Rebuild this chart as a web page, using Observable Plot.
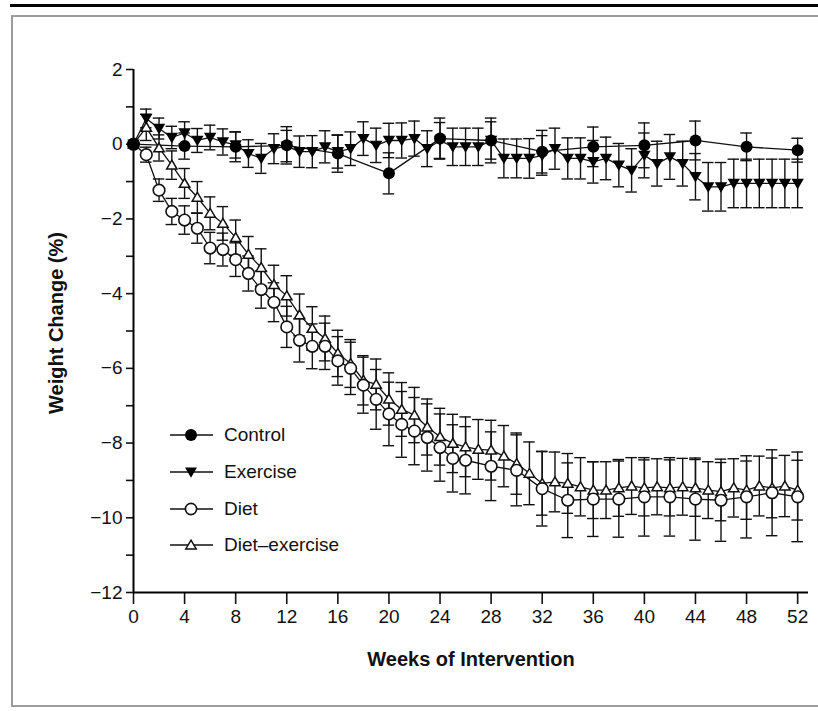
<!DOCTYPE html>
<html><head><meta charset="utf-8">
<script src="https://cdn.jsdelivr.net/npm/d3@7"></script>
<script src="https://cdn.jsdelivr.net/npm/@observablehq/plot@0.6"></script>
<style>
body{margin:0;background:#fff;width:818px;height:711px;overflow:hidden;position:relative;font-family:"Liberation Sans",Arial,sans-serif;color:#111;}
#topline{position:absolute;left:10px;top:4px;width:808px;height:3px;background:#000;}
#box{position:absolute;left:11px;top:15px;width:830px;height:692px;border:2px solid #9c9c9c;box-sizing:border-box;}
#chart{position:absolute;left:0;top:0;}
.legrow{position:absolute;height:24px;}
.legrow svg{position:absolute;left:0;top:0;overflow:visible;}
.legrow span{position:absolute;top:0;line-height:24px;font-size:19px;white-space:nowrap;color:#111;}
</style></head><body>
<div id="topline"></div><div id="box"></div><div id="chart"></div><div id="legend"></div>
<script>
// ---- data ----
const ctrlWeeks = [0,4,8,12,16,20,24,28,32,36,40,44,48,52];
const ctrlMean  = [0,-0.05,-0.07,-0.03,-0.25,-0.78,0.15,0.10,-0.20,-0.07,-0.03,0.10,-0.07,-0.16];
const ctrlErr   = [0,0.35,0.40,0.50,0.50,0.55,0.55,0.60,0.57,0.53,0.60,0.52,0.37,0.32];

const exWeeks = d3.range(0, 53);
const exMean = [0,0.69,0.42,0.18,0.30,0.10,0.18,0.06,-0.02,-0.25,
 -0.38,-0.12,-0.05,-0.20,-0.20,-0.07,-0.20,-0.12,0.15,-0.03,
 0.10,0.10,0.15,-0.12,0.10,-0.07,-0.07,-0.07,0.10,-0.38,
 -0.38,-0.38,-0.30,-0.12,-0.38,-0.38,-0.47,-0.38,-0.56,-0.70,
 -0.30,-0.52,-0.34,-0.52,-0.87,-1.14,-1.14,-1.05,-1.05,-1.05,
 -1.05,-1.05,-1.05];
const exErr = [0,0.25,0.28,0.30,0.30,0.32,0.33,0.35,0.35,0.37,
 0.40,0.40,0.42,0.42,0.43,0.43,0.44,0.45,0.45,0.46,
 0.46,0.47,0.47,0.48,0.48,0.50,0.50,0.50,0.50,0.52,
 0.52,0.53,0.53,0.55,0.55,0.55,0.57,0.57,0.58,0.58,
 0.60,0.60,0.60,0.60,0.62,0.65,0.65,0.65,0.65,0.65,
 0.65,0.65,0.65];

const dietWeeks = [0,1,2,3,4,5,6,7,8,9,10,11,12,13,14,15,16,17,18,19,20,21,22,23,24,25,26,
 28,30,32,34,36,38,40,42,44,46,48,50,52];
const dietMean = [0,-0.28,-1.23,-1.80,-2.03,-2.25,-2.78,-2.82,-3.09,-3.46,
 -3.89,-4.23,-4.89,-5.25,-5.41,-5.41,-5.80,-6.00,-6.45,-6.83,
 -7.22,-7.50,-7.68,-7.85,-8.12,-8.41,-8.46,
 -8.62,-8.73,-9.22,-9.53,-9.50,-9.50,-9.44,-9.44,-9.50,-9.53,-9.44,-9.33,-9.44];
const dietErr = [0,0.20,0.30,0.35,0.38,0.40,0.42,0.44,0.45,0.47,
 0.50,0.52,0.55,0.58,0.60,0.62,0.65,0.70,0.75,0.80,
 0.85,0.88,0.90,0.90,0.90,0.90,0.90,
 0.92,0.95,1.00,1.00,1.00,1.02,1.05,1.05,1.10,1.10,1.10,1.15,1.20];

const deWeeks = d3.range(0, 53);
const deMean = [0,0.45,-0.10,-0.56,-1.05,-1.42,-1.85,-2.12,-2.50,-2.95,
 -3.30,-3.76,-4.06,-4.57,-4.93,-5.20,-5.60,-5.87,-6.32,-6.43,
 -6.82,-7.10,-7.25,-7.57,-7.83,-8.01,-8.10,-8.17,-8.19,-8.35,
 -8.55,-8.81,-9.08,-9.04,-9.08,-9.17,-9.26,-9.26,-9.20,-9.15,
 -9.20,-9.17,-9.20,-9.17,-9.20,-9.26,-9.30,-9.20,-9.26,-9.15,
 -9.20,-9.15,-9.26];
const deErr = [0,0.35,0.35,0.38,0.40,0.42,0.44,0.45,0.47,0.48,
 0.50,0.52,0.54,0.56,0.58,0.60,0.62,0.64,0.66,0.68,
 0.70,0.72,0.74,0.75,0.76,0.78,0.80,0.80,0.80,0.82,
 0.82,0.84,0.85,0.80,0.80,0.78,0.76,0.76,0.76,0.76,
 0.75,0.75,0.75,0.76,0.76,0.76,0.78,0.78,0.78,0.80,
 0.80,0.82,0.80];

const xTicks = [0,4,8,12,16,20,24,28,32,36,40,44,48,52];
const yTicks = [-12,-11,-10,-9,-8,-7,-6,-5,-4,-3,-2,-1,0,1,2];
const yLabelled = [-12,-10,-8,-6,-4,-2,0,2];
const legendLabels = ["Control","Exercise","Diet","Diet\u2013exercise"];
const xTitle = "Weeks of Intervention";
const yTitle = "Weight Change (%)";

// ---- build tables ----
const mk = (weeks, mean, err) => weeks.map((w, i) => ({week: w, v: mean[i], e: err[i]}));
const ctrl = mk(ctrlWeeks, ctrlMean, ctrlErr);
const ex = mk(exWeeks, exMean, exErr);
const diet = mk(dietWeeks, dietMean, dietErr);
const de = mk(deWeeks, deMean, deErr);

const triDown = {draw(ctx, size){ const r = Math.sqrt(size/Math.PI);
  ctx.moveTo(-r, -0.75*r); ctx.lineTo(r, -0.75*r); ctx.lineTo(0, 0.95*r); ctx.closePath(); }};
const triUp = {draw(ctx, size){ const r = Math.sqrt(size/Math.PI);
  ctx.moveTo(0, -0.95*r); ctx.lineTo(r, 0.75*r); ctx.lineTo(-r, 0.75*r); ctx.closePath(); }};

const cap = 0.45;
function errMarks(data){
  const d = data.filter(p => p.e > 0);
  return [
    Plot.ruleX(d, {x: "week", y1: p => p.v - p.e, y2: p => p.v + p.e, stroke: "#111", strokeWidth: 1.4}),
    Plot.ruleY(d, {y: p => p.v + p.e, x1: p => p.week - cap, x2: p => p.week + cap, stroke: "#111", strokeWidth: 1.4}),
    Plot.ruleY(d, {y: p => p.v - p.e, x1: p => p.week - cap, x2: p => p.week + cap, stroke: "#111", strokeWidth: 1.4})
  ];
}
const fmt = d => d < 0 ? "\u2212" + (-d) : String(d);

const chart = Plot.plot({
  width: 818, height: 711,
  marginTop: 69, marginLeft: 133, marginRight: 10, marginBottom: 119,
  x: {domain: [0, 52.85]},
  y: {domain: [-12, 2]},
  style: {fontSize: "19px", fontFamily: "'Liberation Sans', Arial, sans-serif", color: "#111", background: "transparent", overflow: "visible"},
  marks: [
    Plot.axisX(xTicks, {tickSize: 12, tickPadding: 5, strokeWidth: 1.6, label: null, tickFormat: d => d}),
    Plot.axisY(yTicks, {tickSize: 7, tickPadding: 4, strokeWidth: 1.6, label: null, tickFormat: d => yLabelled.includes(d) ? fmt(d) : ""}),
    Plot.ruleX([0], {y1: -12, y2: 2, stroke: "#000", strokeWidth: 2}),
    Plot.ruleY([-12], {stroke: "#000", strokeWidth: 2}),
    Plot.line(de, {x: "week", y: "v", stroke: "#111", strokeWidth: 1.3}),
    Plot.line(diet, {x: "week", y: "v", stroke: "#111", strokeWidth: 1.3}),
    Plot.line(ex, {x: "week", y: "v", stroke: "#111", strokeWidth: 1.3}),
    Plot.line(ctrl, {x: "week", y: "v", stroke: "#111", strokeWidth: 1.3}),
    ...errMarks(de), ...errMarks(diet), ...errMarks(ex), ...errMarks(ctrl),
    Plot.dot(de, {x: "week", y: "v", r: 5.2, symbol: triUp, fill: "white", stroke: "#111", strokeWidth: 1.5}),
    Plot.dot(diet, {x: "week", y: "v", r: 5.8, fill: "white", stroke: "#111", strokeWidth: 1.6}),
    Plot.dot(ex, {x: "week", y: "v", r: 6.2, symbol: triDown, fill: "#000", stroke: "none"}),
    Plot.dot(ctrl, {x: "week", y: "v", r: 6, fill: "#000", stroke: "none"}),
    Plot.text([xTitle], {frameAnchor: "bottom", dy: 73, fontWeight: "bold", fontSize: 20, fill: "#111"}),
    Plot.text([yTitle], {frameAnchor: "left", textAnchor: "middle", dx: -77, dy: -8, rotate: -90, fontWeight: "bold", fontSize: 20, fill: "#111"})
  ]
});
document.getElementById("chart").appendChild(chart);

// ---- legend (HTML overlay) ----
const legY = [435, 472, 509, 545];
const legSym = ["ctrl", "ex", "diet", "de"];
const legend = document.getElementById("legend");
legendLabels.forEach((lab, i) => {
  const row = document.createElement("div");
  row.className = "legrow";
  row.style.left = "163px";
  row.style.top = (legY[i] - 12) + "px";
  let sym = "";
  const cx = 28, cy = 12;
  if (legSym[i] === "ctrl") sym = `<circle cx="${cx}" cy="${cy}" r="6" fill="#000"/>`;
  if (legSym[i] === "ex") sym = `<path d="M${cx-6},${cy-4.5}L${cx+6},${cy-4.5}L${cx},${cy+5.7}Z" fill="#000"/>`;
  if (legSym[i] === "diet") sym = `<circle cx="${cx}" cy="${cy}" r="5.6" fill="#fff" stroke="#111" stroke-width="1.6"/>`;
  if (legSym[i] === "de") sym = `<path d="M${cx},${cy-4.9}L${cx+5.2},${cy+3.9}L${cx-5.2},${cy+3.9}Z" fill="#fff" stroke="#111" stroke-width="1.5"/>`;
  row.innerHTML = `<svg width="60" height="24"><line x1="7" x2="50" y1="12" y2="12" stroke="#111" stroke-width="1.5"/>${sym}</svg><span style="left:61px">${lab}</span>`;
  legend.appendChild(row);
});
</script>
</body></html>
